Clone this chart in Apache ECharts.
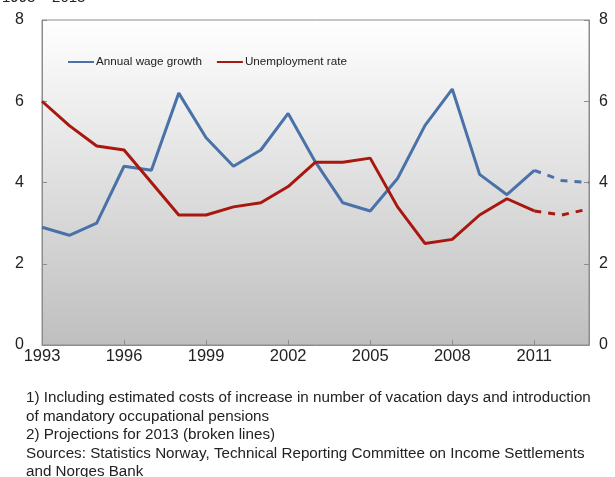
<!DOCTYPE html>
<html>
<head>
<meta charset="utf-8">
<script src="https://cdn.jsdelivr.net/npm/echarts@6/dist/echarts.min.js"></script>
<style>
html,body{margin:0;padding:0;background:#fff;}
#chart{width:615px;height:477px;}
</style>
</head>
<body>
<div id="chart"></div>
<script>
var years = ['1993','1994','1995','1996','1997','1998','1999','2000','2001','2002','2003','2004','2005','2006','2007','2008','2009','2010','2011','2012','2013'];
var wageGrowth = [2.9,2.7,3.0,4.4,4.3,6.2,5.1,4.4,4.8,5.7,4.5,3.5,3.3,4.1,5.4,6.3,4.2,3.7,4.3,null,null];
var wageProjection = [null,null,null,null,null,null,null,null,null,null,null,null,null,null,null,null,null,null,4.3,4.05,4.0];
var unemployment = [6.0,5.4,4.9,4.8,4.0,3.2,3.2,3.4,3.5,3.9,4.5,4.5,4.6,3.4,2.5,2.6,3.2,3.6,3.3,null,null];
var unemploymentProjection = [null,null,null,null,null,null,null,null,null,null,null,null,null,null,null,null,null,null,3.3,3.2,3.35];
var yTicks = [0,2,4,6,8];
var titleText = '1993 – 2013';
var notes = [
  '1) Including estimated costs of increase in number of vacation days and introduction',
  'of mandatory occupational pensions',
  '2) Projections for 2013 (broken lines)',
  'Sources: Statistics Norway, Technical Reporting Committee on Income Settlements',
  'and Norges Bank'
];

var blue = '#4a72a8';
var red = '#a8180e';
var font = 'Liberation Sans, Arial, sans-serif';

var chart = echarts.init(document.getElementById('chart'), null, {renderer:'canvas'});
function yAxis(pos){
  return {
    type:'value', position:pos, min:yTicks[0], max:yTicks[yTicks.length-1], interval:2,
    axisLine:{show:true, lineStyle:{color:'#8c8c8c', width:1}},
    axisTick:{show:true, inside:true, length:5, lineStyle:{color:'#8c8c8c'}},
    splitLine:{show:false},
    axisLabel:{color:'#222', fontSize:16, fontFamily:font, margin:pos==='left'?18:10}
  };
}
chart.setOption({
  animation:false,
  backgroundColor:'#fff',
  textStyle:{fontFamily:font},
  grid:{left:42, right:26, top:20, bottom:132, show:true,
    borderColor:'#8c8c8c', borderWidth:1,
    backgroundColor:{type:'linear', x:0, y:0, x2:0, y2:1, colorStops:[{offset:0,color:'#ffffff'},{offset:1,color:'#bfbfbf'}]}},
  legend:{
    left:63, top:51, itemWidth:26, itemHeight:2, itemGap:15, icon:'rect',
    textStyle:{fontSize:11.7, color:'#222', fontFamily:font, padding:[0,0,0,-3]},
    data:['Annual wage growth','Unemployment rate']
  },
  xAxis:{
    type:'category', data:years, boundaryGap:false,
    axisLine:{show:true, lineStyle:{color:'#8c8c8c'}},
    axisTick:{show:true, inside:true, length:5, interval:2, lineStyle:{color:'#8c8c8c'}},
    axisLabel:{interval:2, color:'#222', fontSize:16.5, fontFamily:font, margin:3}
  },
  yAxis:[yAxis('left'), yAxis('right')],
  graphic:[
    {type:'text', left:2, top:-10, style:{text:titleText, fontSize:15, fill:'#222', fontFamily:font}},
    {type:'text', left:26, top:389, style:{text:notes.join('\n'), fontSize:15.2, lineHeight:18.5, fill:'#222', fontFamily:font}}
  ],
  series:[
    {name:'Annual wage growth', type:'line', data:wageGrowth, symbol:'none', lineStyle:{color:blue, width:3}, itemStyle:{color:blue}},
    {name:'Unemployment rate', type:'line', data:unemployment, symbol:'none', lineStyle:{color:red, width:3}, itemStyle:{color:red}},
    {name:'Annual wage growth projection', type:'line', data:wageProjection, symbol:'none', lineStyle:{color:blue, width:3, type:[7,7]}, itemStyle:{color:blue}},
    {name:'Unemployment rate projection', type:'line', data:unemploymentProjection, symbol:'none', lineStyle:{color:red, width:3, type:[7,7]}, itemStyle:{color:red}}
  ]
});
</script>
</body>
</html>
